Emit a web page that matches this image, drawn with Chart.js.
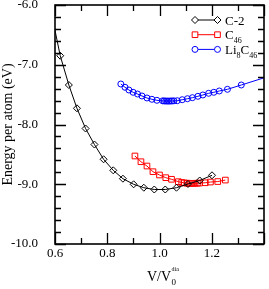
<!DOCTYPE html>
<html>
<head>
<meta charset="utf-8">
<script src="https://cdn.jsdelivr.net/npm/chart.js@4"></script>
<style>
  body { margin: 0; background: #fff; }
  canvas { display: block; }
</style>
</head>
<body>
<canvas id="eosChart" width="269" height="289"></canvas>
<script>
// Data: V/V0 and energy per atom (eV)
const c2V = [0.587, 0.620, 0.653, 0.684, 0.717, 0.751, 0.786, 0.823, 0.860, 0.901, 0.940, 0.980, 1.022, 1.065, 1.109, 1.154, 1.201];
const c2E = [-6.15, -6.849, -7.339, -7.729, -8.067, -8.335, -8.582, -8.767, -8.907, -9.001, -9.058, -9.088, -9.088, -9.058, -8.996, -8.937, -8.850];

const c46V = [0.906, 0.929, 0.952, 0.975, 1.000, 1.024, 1.046, 1.072, 1.085, 1.095, 1.105, 1.113, 1.120, 1.128, 1.136, 1.145, 1.153, 1.175, 1.195, 1.223, 1.252];
const c46E = [-8.527, -8.623, -8.695, -8.790, -8.845, -8.890, -8.917, -8.957, -8.970, -8.978, -8.982, -8.984, -8.985, -8.985, -8.984, -8.982, -8.980, -8.975, -8.963, -8.955, -8.930];

const li8V = [0.852, 0.868, 0.883, 0.899, 0.916, 0.933, 0.952, 0.971, 0.990, 1.012, 1.018, 1.024, 1.030, 1.036, 1.042, 1.048, 1.055, 1.068, 1.087, 1.107, 1.126, 1.147, 1.166, 1.188, 1.208, 1.229, 1.260, 1.313, 1.450];
const li8E = [-7.322, -7.377, -7.423, -7.461, -7.490, -7.523, -7.556, -7.578, -7.595, -7.604, -7.606, -7.607, -7.608, -7.608, -7.607, -7.606, -7.604, -7.602, -7.585, -7.568, -7.551, -7.528, -7.506, -7.478, -7.461, -7.439, -7.411, -7.339, -7.150];

const xTicks = [0.6, 0.8, 1.0, 1.2, 1.4];
const xMinor = [0.7, 0.9, 1.1, 1.3];
const yTicks = [-10, -9, -8, -7, -6];
const yMinor = [-9.8, -9.6, -9.4, -9.2, -8.8, -8.6, -8.4, -8.2, -7.8, -7.6, -7.4, -7.2, -6.8, -6.6, -6.4, -6.2];

const FONT = 'Liberation Serif, Times New Roman, serif';

function toPoints(xs, ys) {
  return xs.map((x, i) => ({ x: x, y: ys[i] }));
}

// Draw text made of pieces, some of them subscript
function drawRich(ctx, parts, x, y, size) {
  ctx.textBaseline = 'alphabetic';
  ctx.textAlign = 'left';
  parts.forEach(p => {
    let s = size, dy = 0;
    if (p.sub) { s = Math.round(size * 0.65); dy = size * 0.3; }
    ctx.font = s + 'px ' + FONT;
    ctx.fillText(p.t, x, y + dy);
    x += ctx.measureText(p.t).width;
  });
}

// Inward ticks on all four sides, as separate short lines
function drawTicks(chart) {
  const c = chart.ctx;
  const a = chart.chartArea;
  const xs = chart.scales.x, ys = chart.scales.y;
  c.save();
  c.globalAlpha = 1;
  c.globalCompositeOperation = 'source-over';
  c.setLineDash([]);
  c.strokeStyle = '#000000';
  c.lineWidth = 1.3;
  xTicks.map(v => [v, 11]).concat(xMinor.map(v => [v, 6])).forEach(t => {
    const px = Math.round(xs.getPixelForValue(t[0])) + 0.5;
    c.beginPath();
    c.moveTo(px, a.bottom);
    c.lineTo(px, a.bottom - t[1]);
    c.moveTo(px, a.top);
    c.lineTo(px, a.top + t[1]);
    c.stroke();
  });
  yTicks.map(v => [v, 11]).concat(yMinor.map(v => [v, 6])).forEach(t => {
    const py = Math.round(ys.getPixelForValue(t[0])) + 0.5;
    c.beginPath();
    c.moveTo(a.left, py);
    c.lineTo(a.left + t[1], py);
    c.moveTo(a.right, py);
    c.lineTo(a.right - t[1], py);
    c.stroke();
  });
  c.restore();
}

// Frame, ticks, legend with subscripts and the x axis title
const decorPlugin = {
  id: 'decor',
  afterDraw(chart) {
    const c = chart.ctx;
    const a = chart.chartArea;
    c.save();
    c.strokeStyle = '#000';
    c.lineWidth = 1.6;
    c.strokeRect(a.left, a.top, a.right - a.left, a.bottom - a.top);
    c.restore();

    drawTicks(chart);

    c.save();
    const rows = [
      { ds: 0, parts: [{ t: 'C-2' }] },
      { ds: 1, parts: [{ t: 'C' }, { t: '46', sub: true }] },
      { ds: 2, parts: [{ t: 'Li' }, { t: '8', sub: true }, { t: 'C' }, { t: '46', sub: true }] }
    ];
    rows.forEach((r, i) => {
      const y = 20 + i * 14.7;
      const d = chart.data.datasets[r.ds];
      c.strokeStyle = d.borderColor;
      c.lineWidth = 1;
      c.beginPath();
      c.moveTo(195, y); c.lineTo(217.5, y);
      c.stroke();
      c.fillStyle = '#fff';
      [195, 217.5].forEach(px => {
        Chart.helpers.drawPoint(c, {
          pointStyle: d.pointStyle, radius: d.pointRadius, borderWidth: 1, rotation: 0
        }, px, y);
      });
      c.fillStyle = '#000';
      drawRich(c, r.parts, 225, y + 4.5, 13);
    });

    c.fillStyle = '#000';
    c.font = '14px ' + FONT;
    c.textBaseline = 'alphabetic';
    c.textAlign = 'left';
    const main = 'V/V';
    const w = c.measureText(main).width;
    const x0 = 147;
    c.fillText(main, x0, 281);
    c.font = '9px ' + FONT;
    c.fillText('0', x0 + w + 0.5, 285);
    c.font = '6px ' + FONT;
    c.fillText('dia', x0 + w + 0.5, 271);
    c.restore();
  }
};

Chart.defaults.color = '#000';

const chart = new Chart(document.getElementById('eosChart'), {
  type: 'scatter',
  data: {
    datasets: [
      {
        label: 'C-2',
        data: toPoints(c2V, c2E),
        showLine: true,
        borderColor: '#000000',
        backgroundColor: 'rgba(0,0,0,0)',
        borderWidth: 1,
        pointStyle: 'rectRot',
        pointRadius: 3.5,
        pointBorderWidth: 1
      },
      {
        label: 'C46',
        data: toPoints(c46V, c46E),
        showLine: true,
        borderColor: '#ff0000',
        backgroundColor: 'rgba(0,0,0,0)',
        borderWidth: 1,
        pointStyle: 'rect',
        pointRadius: 4,
        pointBorderWidth: 1
      },
      {
        label: 'Li8C46',
        data: toPoints(li8V, li8E),
        showLine: true,
        borderColor: '#0000ff',
        backgroundColor: 'rgba(0,0,0,0)',
        borderWidth: 1,
        pointStyle: 'circle',
        pointRadius: 3,
        pointBorderWidth: 1
      }
    ]
  },
  options: {
    responsive: false,
    animation: false,
    devicePixelRatio: 1,
    layout: { padding: { top: 5, right: 1, left: 0, bottom: 0 } },
    plugins: {
      legend: { display: false },
      tooltip: { enabled: false }
    },
    scales: {
      x: {
        type: 'linear',
        min: 0.6,
        max: 1.4,
        afterBuildTicks(scale) {
          scale.ticks = xTicks.map(v => ({ value: v }));
        },
        afterFit(scale) {
          scale.height = 45;
          scale.paddingLeft = 0;
          scale.paddingRight = 0;
        },
        grid: { display: false, drawTicks: false },
        border: { display: false },
        ticks: {
          padding: 2,
          font: { family: FONT, size: 13 },
          callback: (v) => (v > 1.3 ? '' : Number(v).toFixed(1))
        }
      },
      y: {
        type: 'linear',
        min: -10,
        max: -6,
        afterBuildTicks(scale) {
          scale.ticks = yTicks.map(v => ({ value: v }));
        },
        afterFit(scale) {
          scale.width = 55;
          scale.paddingTop = 0;
          scale.paddingBottom = 0;
        },
        grid: { display: false, drawTicks: false },
        border: { display: false },
        title: {
          display: true,
          text: 'Energy per atom (eV)',
          font: { family: FONT, size: 14 },
          padding: 0
        },
        ticks: {
          padding: 17,
          font: { family: FONT, size: 13 },
          callback: (v) => Number(v).toFixed(1)
        }
      }
    }
  },
  plugins: [decorPlugin]
});
</script>
</body>
</html>
